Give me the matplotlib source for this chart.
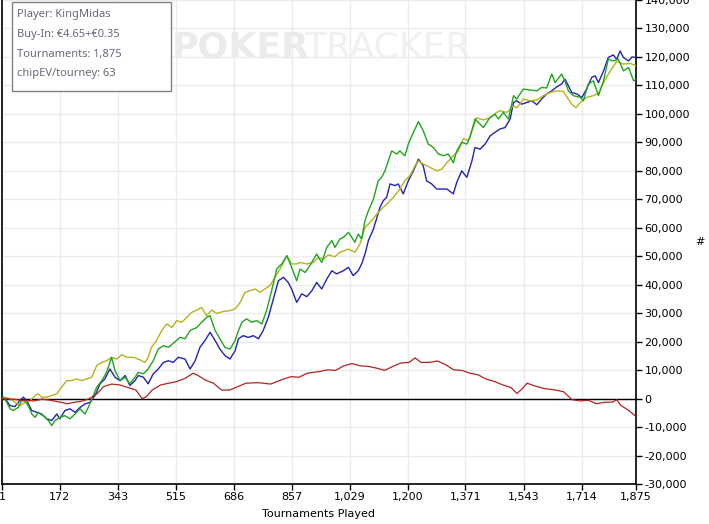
import numpy as np
import matplotlib
matplotlib.use("Agg")
import matplotlib.pyplot as plt
from matplotlib.ticker import FuncFormatter
from matplotlib.patches import Rectangle

# chip counts in thousands
blue_t = [1, 10, 25, 39, 54, 64, 74, 89, 104, 118, 133, 148, 163, 172, 187, 202,
          217, 232, 246, 261, 276, 291, 305, 320, 335, 350, 365, 379, 394, 404,
          419, 433, 448, 463, 478, 493, 507, 522, 542, 557, 572, 586, 601, 616,
          631, 645, 660, 675, 690, 700, 714, 729, 744, 759, 773, 788, 803, 818,
          833, 847, 857, 872, 887, 902, 917, 931, 946, 961, 976, 990, 1010, 1025,
          1039, 1054, 1064, 1074, 1084, 1099, 1109, 1118, 1128, 1138, 1148, 1163,
          1172, 1187, 1202, 1217, 1232, 1246, 1256, 1271, 1286, 1301, 1316, 1335,
          1345, 1360, 1375, 1390, 1399, 1414, 1429, 1444, 1458, 1473, 1488, 1503,
          1513, 1522, 1537, 1552, 1567, 1582, 1596, 1611, 1626, 1641, 1655, 1665,
          1675, 1685, 1700, 1715, 1729, 1744, 1754, 1764, 1779, 1793, 1808, 1818,
          1828, 1838, 1853, 1863, 1875]
blue_k = [0, 0, -2.5, -2.8, -0.7, 0.5, -0.7, -4.2, -4.8, -5.4, -7.1, -7.7, -5.4,
          -7.1, -4.2, -3.6, -4.8, -3.1, -1.9, -1.3, 1.1, 5.2, 6.9, 10.4, 7.5, 6.3,
          8.1, 4.6, 6.3, 8.1, 7.5, 5.2, 8.7, 10.4, 12.7, 13.3, 12.7, 14.5, 13.9,
          10.4, 13.3, 18.0, 20.4, 23.3, 20.4, 17.4, 15.1, 13.9, 16.8, 21.0, 22.1,
          21.5, 22.1, 21.0, 23.9, 28.5, 35.0, 41.4, 42.6, 40.8, 38.5, 33.8, 36.8,
          35.8, 37.9, 40.8, 38.5, 42.0, 44.9, 43.8, 44.9, 46.1, 43.2, 44.9, 47.3,
          50.8, 55.5, 59.6, 63.6, 67.1, 69.5, 70.7, 75.4, 74.8, 75.4, 71.9, 76.5,
          80.0, 84.1, 81.8, 76.5, 75.4, 73.6, 73.6, 73.6, 71.9, 75.9, 80.0, 77.7,
          83.5, 88.2, 87.6, 89.4, 92.3, 93.5, 94.7, 95.2, 98.2, 104.0, 104.6,
          103.4, 104.0, 104.6, 103.2, 105.2, 107.0, 108.1, 109.5, 110.5, 112.2,
          109.9, 107.5, 107.0, 105.8, 108.7, 112.8, 113.4, 111.0, 115.1, 119.8,
          120.7, 119.2, 122.1, 119.8, 118.6, 120.0, 119.8]

green_t = [1, 5, 15, 25, 34, 49, 59, 69, 79, 89, 99, 108, 123, 138, 148, 158, 172,
           187, 202, 217, 232, 246, 256, 271, 281, 296, 310, 325, 335, 350, 365,
           379, 394, 404, 419, 433, 448, 463, 478, 493, 507, 527, 542, 557, 577,
           591, 606, 616, 631, 645, 660, 675, 690, 700, 710, 724, 739, 754, 769,
           783, 798, 813, 828, 843, 857, 872, 882, 897, 911, 931, 946, 961, 976,
           985, 1000, 1010, 1025, 1035, 1044, 1054, 1064, 1074, 1084, 1099, 1113,
           1123, 1133, 1143, 1153, 1168, 1177, 1192, 1202, 1217, 1232, 1246, 1261,
           1276, 1291, 1305, 1320, 1335, 1345, 1360, 1375, 1384, 1399, 1414, 1424,
           1443, 1458, 1468, 1483, 1498, 1513, 1522, 1542, 1562, 1582, 1596, 1611,
           1626, 1636, 1655, 1665, 1675, 1690, 1710, 1719, 1734, 1749, 1764, 1779,
           1793, 1808, 1823, 1838, 1853, 1868, 1875]
green_k = [0, 0.5, -1.3, -3.6, -4.2, -3.1, -0.7, -0.9, -2.5, -5.4, -6.6, -4.8,
           -6.0, -7.7, -9.5, -7.7, -6.6, -6.0, -7.1, -5.4, -3.6, -5.4, -3.1, 1.1,
           4.0, 6.3, 9.2, 14.5, 9.8, 6.3, 7.5, 5.2, 7.5, 9.2, 8.7, 10.4, 13.3,
           17.4, 18.6, 18.0, 19.4, 21.5, 21.0, 23.9, 25.0, 26.8, 28.5, 29.1, 23.9,
           21.0, 18.0, 17.4, 20.4, 23.9, 26.8, 28.0, 26.8, 27.4, 26.2, 30.9, 37.9,
           45.5, 47.3, 50.2, 46.1, 41.4, 45.5, 44.3, 46.7, 50.8, 47.8, 53.1, 55.5,
           53.1, 56.1, 56.6, 58.4, 56.6, 54.9, 57.8, 56.1, 62.5, 66.0, 70.1, 76.5,
           77.7, 80.0, 83.5, 87.0, 85.9, 87.0, 85.3, 89.4, 93.5, 97.3, 94.1, 89.4,
           88.2, 85.9, 85.3, 85.9, 82.8, 87.0, 90.0, 89.4, 91.7, 98.2, 96.4, 95.2,
           98.7, 99.9, 98.2, 100.5, 98.2, 106.4, 105.2, 108.7, 108.4, 108.1, 109.3,
           109.1, 114.0, 111.0, 114.0, 111.6, 108.1, 106.4, 105.8, 104.6, 110.5,
           111.6, 106.4, 111.6, 119.2, 118.6, 119.2, 115.1, 116.3, 111.6, 112.2]

olive_t = [1, 10, 25, 39, 54, 69, 84, 99, 108, 118, 133, 148, 163, 177, 192, 207,
           222, 237, 251, 266, 281, 296, 310, 325, 340, 355, 370, 389, 409, 424,
           433, 443, 458, 473, 488, 503, 517, 532, 547, 562, 577, 591, 606, 621,
           636, 655, 675, 690, 705, 719, 734, 749, 764, 778, 793, 808, 823, 843,
           857, 872, 882, 902, 921, 936, 951, 966, 985, 1000, 1025, 1044, 1059,
           1074, 1089, 1109, 1123, 1138, 1158, 1177, 1192, 1207, 1222, 1232, 1246,
           1266, 1286, 1301, 1316, 1335, 1350, 1365, 1379, 1394, 1404, 1424, 1444,
           1463, 1473, 1493, 1513, 1523, 1542, 1562, 1582, 1601, 1621, 1641, 1660,
           1675, 1685, 1698, 1710, 1729, 1749, 1764, 1779, 1799, 1818, 1838, 1858,
           1875]
olive_k = [0, 0.5, -0.1, -1.3, -2.5, -1.3, -0.7, 1.1, 1.7, 0.5, 0.5, 1.1, 1.7,
           4.0, 6.3, 6.3, 6.9, 6.3, 6.9, 7.5, 11.6, 12.7, 13.3, 14.5, 13.9, 15.4,
           14.5, 14.5, 13.6, 12.7, 14.5, 18.0, 20.4, 23.9, 26.2, 25.0, 27.4, 26.8,
           28.5, 30.3, 31.1, 32.0, 29.1, 31.1, 29.9, 30.6, 30.9, 31.5, 33.8, 37.3,
           37.9, 38.5, 37.3, 38.5, 39.7, 42.6, 45.5, 50.2, 47.3, 47.3, 47.8, 47.3,
           47.8, 49.6, 49.0, 50.5, 49.8, 51.4, 52.5, 51.4, 54.3, 60.1, 61.9, 64.8,
           66.6, 68.3, 70.7, 73.6, 76.5, 78.3, 81.8, 83.5, 82.4, 81.2, 80.0, 80.6,
           82.9, 85.3, 87.0, 91.3, 90.6, 95.2, 98.6, 97.9, 98.6, 100.5, 101.1,
           100.5, 102.8, 102.1, 105.2, 104.6, 104.9, 106.4, 107.5, 108.1, 107.9,
           105.2, 103.4, 102.2, 104.0, 105.8, 106.4, 107.2, 111.0, 115.1, 118.4,
           117.5, 117.7, 116.9]

red_t = [1, 24, 60, 96, 120, 144, 175, 193, 211, 241, 259, 283, 301, 325, 349,
         373, 397, 415, 427, 445, 470, 494, 518, 542, 566, 578, 602, 626, 650, 674,
         698, 722, 758, 795, 831, 855, 879, 903, 939, 963, 987, 1011, 1035, 1060,
         1084, 1108, 1132, 1156, 1180, 1204, 1222, 1240, 1264, 1288, 1312, 1336,
         1360, 1385, 1409, 1433, 1457, 1481, 1505, 1523, 1535, 1553, 1577, 1601,
         1637, 1661, 1686, 1710, 1734, 1758, 1782, 1806, 1818, 1830, 1854, 1875]
red_k = [0, -0.1, -0.6, -0.8, -0.2, -0.6, -1.3, -1.8, -1.4, -0.8, 0, 1.8, 4.2,
         5.1, 4.8, 3.9, 3.0, 0, 0.6, 3.0, 4.8, 5.4, 6.0, 7.1, 8.9, 8.3, 6.5, 5.4,
         3.0, 3.0, 4.2, 5.4, 5.6, 5.1, 6.8, 7.7, 7.5, 8.9, 9.5, 10.1, 9.9, 11.5,
         12.3, 11.5, 11.3, 10.7, 9.9, 11.3, 12.5, 12.7, 14.3, 12.7, 12.7, 13.2,
         11.9, 10.1, 9.9, 8.9, 8.3, 6.8, 6.0, 4.8, 3.9, 1.8, 3.0, 5.4, 4.4, 3.6,
         3.0, 2.4, -0.4, -0.8, -0.6, -1.8, -1.3, -1.2, -0.4, -2.4, -4.2, -6.3]

x_ticks = [1, 172, 343, 515, 686, 857, 1029, 1200, 1371, 1543, 1714, 1875]
y_ticks = list(range(-30000, 140001, 10000))
info_lines = ["Player: KingMidas", "Buy-In: €4.65+€0.35",
              "Tournaments: 1,875", "chipEV/tourney: 63"]

W, H = 709, 524
fig = plt.figure(figsize=(W / 100, H / 100), dpi=100)
ax = fig.add_axes([2 / W, 1 - 484 / H, 634 / W, 484 / H])

ax.set_xlim(1, 1875)
ax.set_ylim(-30000, 140000)

# faint watermark behind everything
ax.text(170 / 634, 1 - 47 / 484, "POKER", transform=ax.transAxes,
        fontsize=26, fontweight="bold", color="#ebebeb", va="center",
        ha="left", zorder=0, family="DejaVu Sans")
ax.text(468 / 634, 1 - 47 / 484, "TRACKER", transform=ax.transAxes,
        fontsize=26, color="#f0f0f0", va="center", ha="right", zorder=0,
        family="DejaVu Sans")

ax.set_xticks(x_ticks)
ax.set_xticklabels(["{:,}".format(t) for t in x_ticks])
ax.set_yticks(y_ticks)
ax.yaxis.set_major_formatter(FuncFormatter(lambda v, p: "{:,}".format(int(v))))
ax.grid(True, color="#ebebeb", linewidth=1)
ax.set_axisbelow(True)
ax.axhline(0, color="black", linewidth=1, zorder=2)

ax.plot(blue_t, np.array(blue_k) * 1000, color="#2323b4", lw=1.0, zorder=3)
ax.plot(olive_t, np.array(olive_k) * 1000, color="#b4b41e", lw=1.0, zorder=3)
ax.plot(green_t, np.array(green_k) * 1000, color="#1ea61e", lw=1.0, zorder=3)
ax.plot(red_t, np.array(red_k) * 1000, color="#b42323", lw=0.9, zorder=3)

ax.yaxis.tick_right()
ax.spines["top"].set_visible(False)
for s in ["left", "right", "bottom"]:
    ax.spines[s].set_linewidth(1.2)
ax.tick_params(axis="both", direction="out", length=4, width=1, labelsize=8,
               pad=2, colors="black")

fig.text(318 / W, 1 - 514 / H, "Tournaments Played", ha="center",
         va="center", fontsize=8)
fig.text(700 / W, 1 - 242 / H, "#", ha="center", va="center", fontsize=8)

# info box in the top left corner
fig.patches.append(Rectangle((12 / W, 1 - 91 / H), 159 / W, 89 / H,
                             transform=fig.transFigure, facecolor="white",
                             edgecolor="#808080", linewidth=1, zorder=5))
for i, line in enumerate(info_lines):
    fig.text(17 / W, 1 - (15 + i * 19.5) / H, line, ha="left", va="center",
             fontsize=8, color="#6e6678", family="Noto Sans", zorder=6)

fig.savefig("out.png", dpi=100)
